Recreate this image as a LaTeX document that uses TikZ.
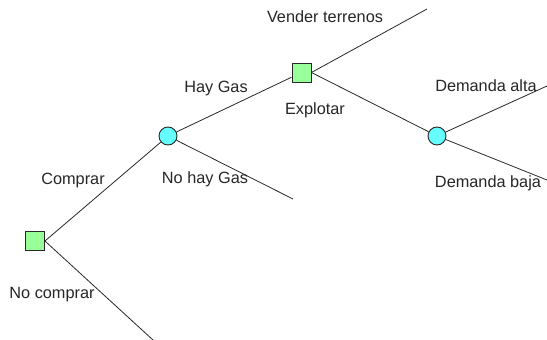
\documentclass[tikz,border=0pt]{standalone}
\usepackage{fontspec}
\setmainfont{Liberation Sans}
\definecolor{sqfill}{RGB}{153,255,153}
\definecolor{cifill}{RGB}{102,255,255}
\definecolor{edge}{RGB}{40,40,40}
\begin{document}
\begin{tikzpicture}[x=1pt,y=-1pt,
  decision/.style={draw=edge,fill=sqfill,minimum size=19pt,inner sep=0pt,line width=0.9pt},
  chance/.style={circle,draw=edge,fill=cifill,minimum size=18pt,inner sep=0pt,line width=0.9pt},
  branch/.style={draw=edge,line width=0.8pt},
  lbl/.style={font=\fontsize{16.3pt}{18pt}\selectfont,text=black!85,inner sep=0pt}]
\useasboundingbox (0,0) rectangle (547,340);
\node[decision] (d1) at (35,241) {};
\node[chance] (c1) at (168,136) {};
\node[decision] (d2) at (301.5,72.5) {};
\node[chance] (c2) at (437,136) {};
\coordinate (e1) at (153,340);
\coordinate (e2) at (293,199);
\coordinate (e3) at (427,9);
\coordinate (e4) at (547,86);
\coordinate (e5) at (547,180);
\draw[branch] (d1.east) -- (c1);
\draw[branch] (d1.east) -- (e1);
\draw[branch] (c1) -- (d2);
\draw[branch] (c1) -- (e2);
\draw[branch] (d2.east) -- (e3);
\draw[branch] (d2.east) -- (c2);
\draw[branch] (c2) -- (e4);
\draw[branch] (c2) -- (e5);
\node[lbl] (l1) at (73,180) {Comprar};
\node[lbl] (l2) at (52,295) {No comprar};
\node[lbl] (l3) at (216,88) {Hay Gas};
\node[lbl] (l4) at (205,179) {No hay Gas};
\node[lbl] (l5) at (325,17) {Vender terrenos};
\node[lbl] (l6) at (315,110) {Explotar};
\node[lbl] (l7) at (486,86) {Demanda alta};
\node[lbl] (l8) at (488,183) {Demanda baja};
\end{tikzpicture}
\end{document}
